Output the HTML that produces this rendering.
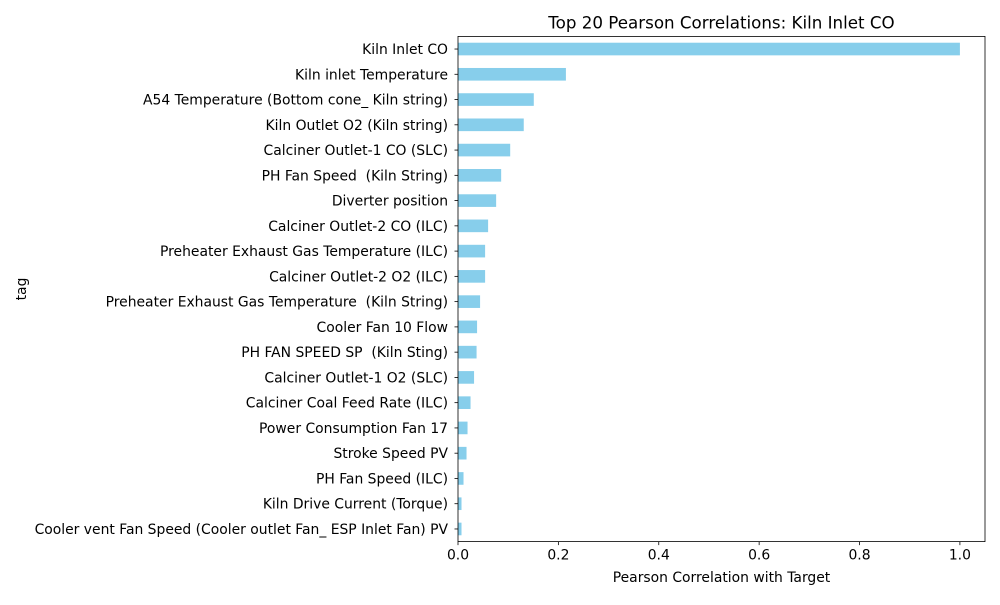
<!DOCTYPE html>
<html><head><meta charset="utf-8"><style>
body{margin:0;background:#fff}
svg{font-family:"DejaVu Sans","Liberation Sans",sans-serif}
text{white-space:pre}
</style></head><body>
<svg id="chart" width="1000" height="600"></svg>
<script>
const categories=["Kiln Inlet CO","Kiln inlet Temperature","A54 Temperature (Bottom cone_ Kiln string)","Kiln Outlet O2 (Kiln string)","Calciner Outlet-1 CO (SLC)","PH Fan Speed  (Kiln String)","Diverter position","Calciner Outlet-2 CO (ILC)","Preheater Exhaust Gas Temperature (ILC)","Calciner Outlet-2 O2 (ILC)","Preheater Exhaust Gas Temperature  (Kiln String)","Cooler Fan 10 Flow","PH FAN SPEED SP  (Kiln Sting)","Calciner Outlet-1 O2 (SLC)","Calciner Coal Feed Rate (ILC)","Power Consumption Fan 17","Stroke Speed PV","PH Fan Speed (ILC)","Kiln Drive Current (Torque)","Cooler vent Fan Speed (Cooler outlet Fan_ ESP Inlet Fan) PV"];
const values=[1.0,0.215,0.151,0.131,0.104,0.086,0.076,0.060,0.054,0.054,0.044,0.038,0.037,0.032,0.025,0.019,0.017,0.011,0.007,0.007];
const xTicks=[0,0.2,0.4,0.6,0.8,1.0];
const xTickLabels=["0.0","0.2","0.4","0.6","0.8","1.0"];
const NS="http://www.w3.org/2000/svg";
const svg=document.getElementById('chart');
const L=458,R=985,T=36.4,B=541.6;
const xMax=Math.max(...values)*1.05;
const xs=v=>L+(v/xMax)*(R-L);
const step=(B-T)/categories.length;
const yc=i=>T+step*(i+0.5);
function mk(tag,attrs,text){const e=document.createElementNS(NS,tag);for(const k in attrs)e.setAttribute(k,attrs[k]);if(text!==undefined)e.textContent=text;svg.appendChild(e);return e;}
categories.forEach((c,i)=>{
  const r=mk('rect',{x:L,y:yc(i)-step*0.25,width:xs(values[i])-L,height:step*0.5,fill:'#87ceeb'});
  
  
  const tk=mk('line',{x1:L-3.5,x2:L,y1:yc(i),y2:yc(i),stroke:'#000','stroke-width':0.8});
  
  
  const t=mk('text',{x:L-10,y:yc(i)+5,'text-anchor':'end','font-size':13.9},c);
  
  
});
xTicks.forEach((v,i)=>{
  const tk=mk('line',{x1:xs(v),x2:xs(v),y1:B,y2:B+3.5,stroke:'#000','stroke-width':0.8});
  
  
  const t=mk('text',{x:xs(v),y:B+18,'text-anchor':'middle','font-size':13.9},xTickLabels[i]);
  
  
});
const frame=mk('rect',{x:L,y:T,width:R-L,height:B-T,fill:'none',stroke:'#000','stroke-width':0.8});


const title=mk('text',{x:(L+R)/2,y:T-8,'text-anchor':'middle','font-size':16.7},'Top 20 Pearson Correlations: Kiln Inlet CO');


const xl=mk('text',{x:(L+R)/2,y:582,'text-anchor':'middle','font-size':13.9},'Pearson Correlation with Target');


const yl=mk('text',{x:0,y:0,'text-anchor':'middle','font-size':13.9,transform:'translate(26,'+((T+B)/2)+') rotate(-90)'},'tag');


</script>
</body></html>
